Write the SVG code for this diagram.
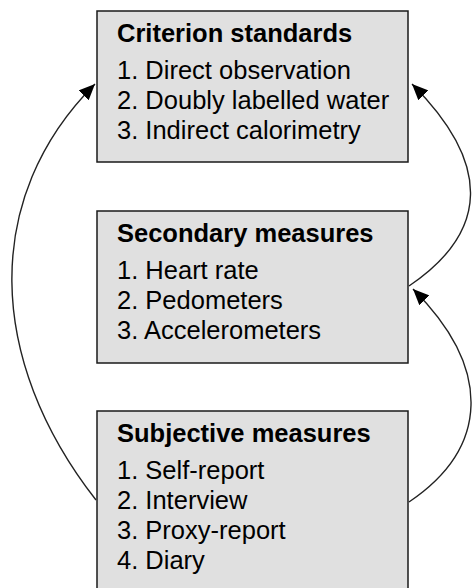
<svg xmlns="http://www.w3.org/2000/svg" width="473" height="588" viewBox="0 0 473 588">
<style>
.box{fill:#e0e0e0;stroke:#1a1a1a;stroke-width:1.5}
.t{font-family:"Liberation Sans",Arial,sans-serif;font-size:25.5px;fill:#000}
.b{font-weight:bold}
.c{fill:none;stroke:#222;stroke-width:1.4}
</style>
<defs>
<marker id="ah" markerUnits="userSpaceOnUse" markerWidth="17" markerHeight="14" refX="16" refY="7" orient="auto">
<path d="M0,0 L16,7 L0,14 Z" fill="#000"/>
</marker>
</defs>
<g id="criterion">
<rect class="box" x="97" y="11" width="311" height="151"/>
<text class="t b" x="117" y="42">Criterion standards</text>
<text class="t" x="117" y="79">1. Direct observation</text>
<text class="t" x="117" y="109">2. Doubly labelled water</text>
<text class="t" x="117" y="139">3. Indirect calorimetry</text>
</g>
<g id="secondary">
<rect class="box" x="97" y="211" width="311" height="152"/>
<text class="t b" x="117" y="242">Secondary measures</text>
<text class="t" x="117" y="279">1. Heart rate</text>
<text class="t" x="117" y="309">2. Pedometers</text>
<text class="t" x="117" y="339">3. Accelerometers</text>
</g>
<g id="subjective">
<rect class="box" x="97" y="411" width="311" height="185"/>
<text class="t b" x="117" y="442">Subjective measures</text>
<text class="t" x="117" y="479">1. Self-report</text>
<text class="t" x="117" y="509">2. Interview</text>
<text class="t" x="117" y="539">3. Proxy-report</text>
<text class="t" x="117" y="569">4. Diary</text>
</g>
<g id="connectors">
<path class="c" d="M96,500 C-14,359 -18,197 95,84" marker-end="url(#ah)"/>
<path class="c" d="M409,286 C489,232 492,164 412,84" marker-end="url(#ah)"/>
<path class="c" d="M409,502 C489,448 493,369 413,289" marker-end="url(#ah)"/>
</g>
</svg>
